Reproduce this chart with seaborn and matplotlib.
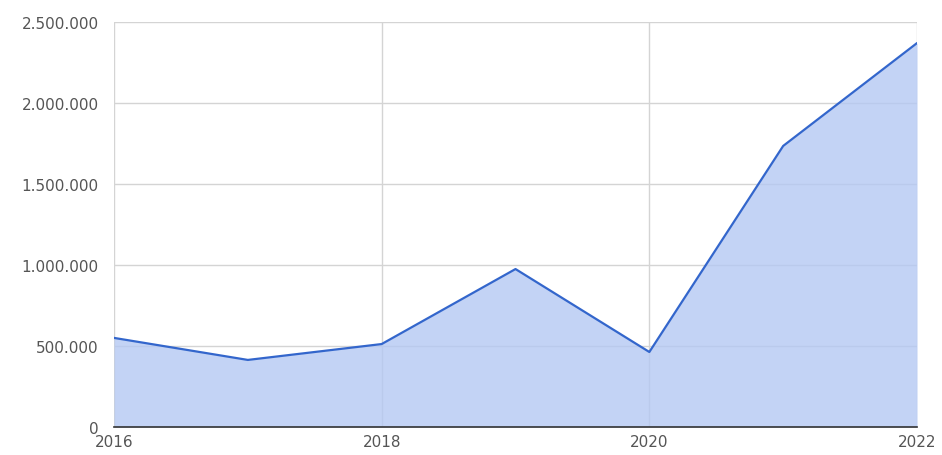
import matplotlib
matplotlib.use("Agg")
import matplotlib.pyplot as plt
import seaborn as sns
import pandas as pd
from matplotlib.ticker import FuncFormatter

# Yearly totals
years = [2016, 2017, 2018, 2019, 2020, 2021, 2022]
values = [550000, 414000, 512000, 975000, 463000, 1735000, 2370000]
x_ticks = [2016, 2018, 2020, 2022]
y_ticks = [0, 500000, 1000000, 1500000, 2000000, 2500000]

df = pd.DataFrame({"year": years, "value": values})

sns.set_style("white")
plt.rcParams["font.family"] = ["DejaVu Sans"]

fig = plt.figure(figsize=(9.42, 4.56), dpi=100)
ax = fig.add_axes([0.121, 0.0614, 0.8525, 0.8882])

line_color = "#3366cc"
fill_color = "#b4c8f3"
ax.fill_between(df["year"], df["value"], 0, color=fill_color, alpha=0.8, linewidth=0, zorder=2)
sns.lineplot(data=df, x="year", y="value", ax=ax, color=line_color, linewidth=1.6, zorder=3)

ax.set_xlim(2016, 2022)
ax.set_ylim(0, 2500000)
ax.set_xticks(x_ticks)
ax.set_yticks(y_ticks)
ax.yaxis.set_major_formatter(FuncFormatter(lambda v, p: f"{int(v):,}".replace(",", ".")))

ax.grid(True, color="#d4d4d4", linewidth=1.0, zorder=0)
ax.set_axisbelow(True)
for side in ["top", "right", "left"]:
    ax.spines[side].set_visible(False)
ax.spines["bottom"].set_color("#333333")
ax.spines["bottom"].set_linewidth(1.2)
ax.spines["bottom"].set_zorder(4)

ax.tick_params(axis="both", length=0, labelsize=11, labelcolor="#555555")
ax.tick_params(axis="y", pad=11)
ax.tick_params(axis="x", pad=5)
ax.set_xlabel("")
ax.set_ylabel("")

fig.savefig("out.png", dpi=100, facecolor="white")
